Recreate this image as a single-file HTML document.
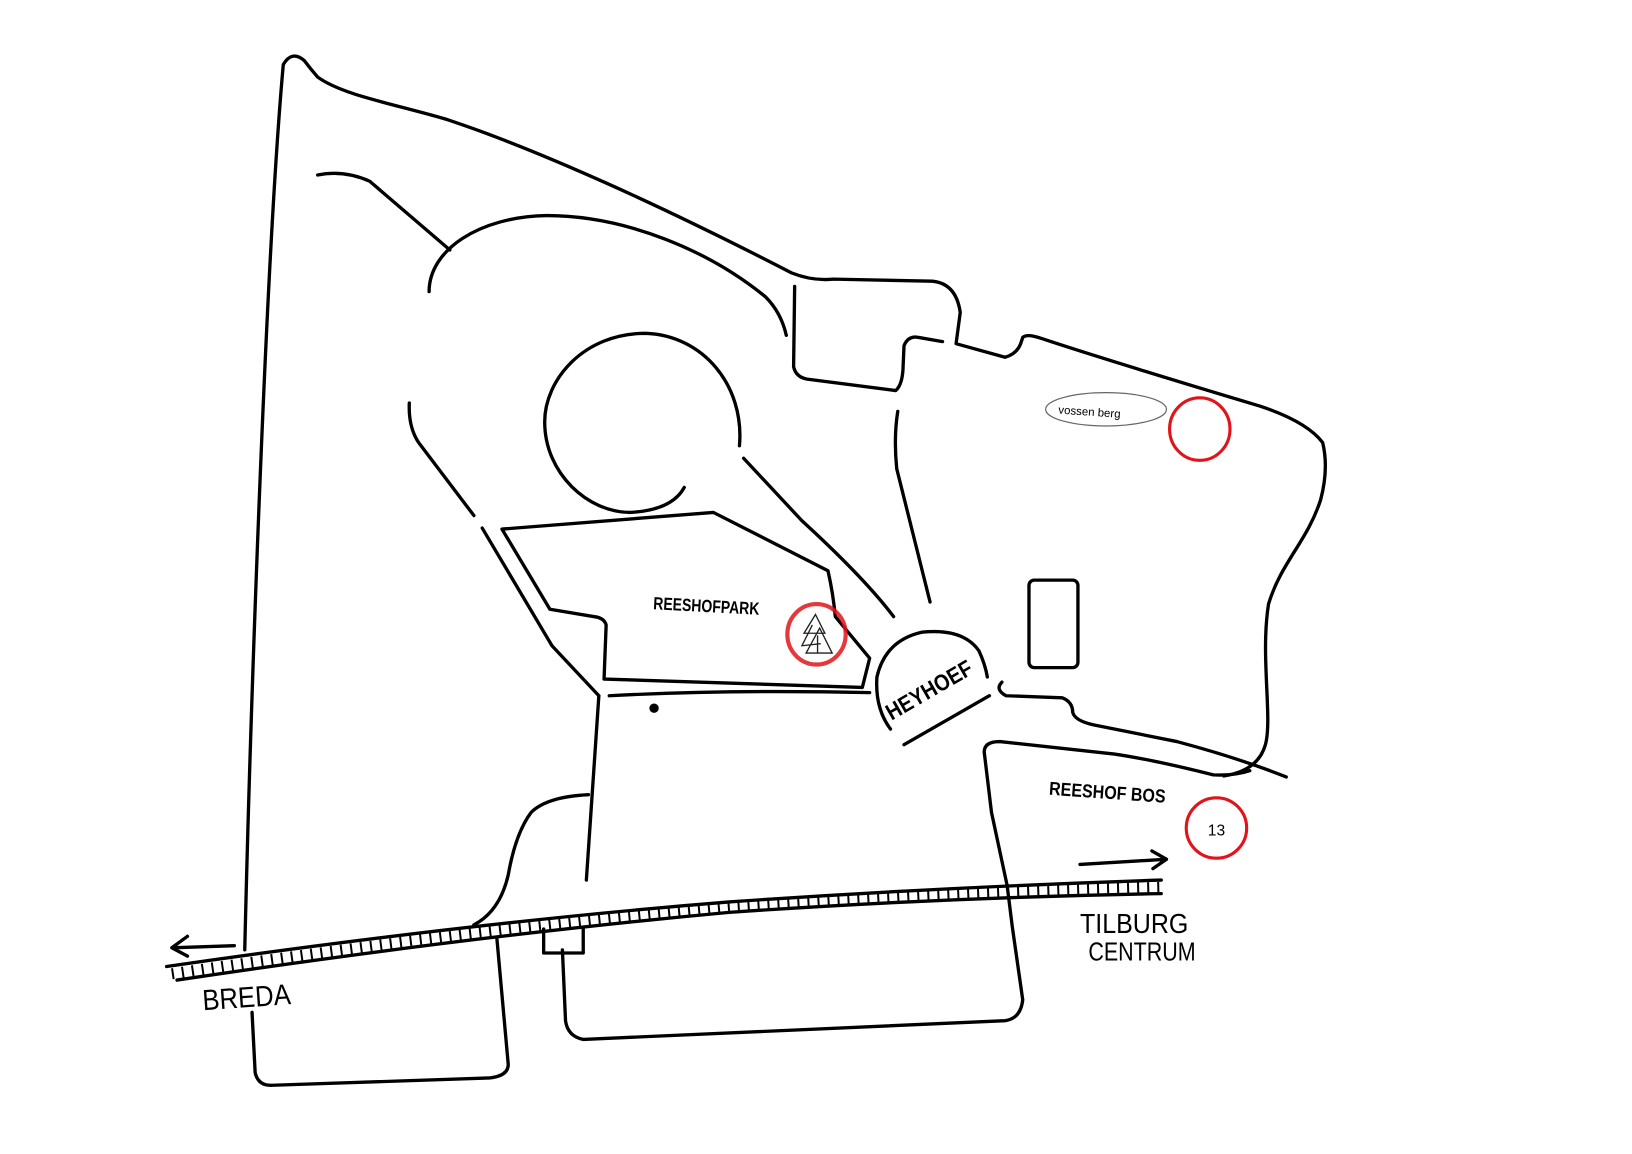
<!DOCTYPE html>
<html><head><meta charset="utf-8"><style>
html,body{margin:0;padding:0;background:#fff;}
svg{display:block;}
.s{fill:none;stroke:#000;stroke-width:3.2;stroke-linecap:round;stroke-linejoin:round;vector-effect:non-scaling-stroke;}
text{font-family:"Liberation Sans Narrow","Liberation Sans",sans-serif;font-weight:bold;fill:#000;}
</style></head><body>
<svg width="1632" height="1154" viewBox="0 0 1567 1108" preserveAspectRatio="none" xmlns="http://www.w3.org/2000/svg">
<g class="s">
<path d="M235,912 C240,700 255,250 272,62 Q280,48 292,58 Q298,66 305,74 C330,92 380,100 430,115 C520,145 640,200 760,262 Q780,270 800,268 L895,270 Q918,272 922,300 L918,330 L965,343 Q976,340 980,330 L982,324 Q986,320 1000,325 C1060,345 1150,372 1210,390 Q1255,405 1270,425 Q1276,450 1268,480 C1255,520 1230,540 1218,580 C1210,630 1222,690 1215,715 Q1208,740 1175,745"/>
<path d="M305,168 Q330,163 355,174 L432,240"/>
<path d="M412,280 C412,240 460,208 525,207 C600,207 680,240 735,285 Q750,300 755,322"/>
<path d="M763,275 L762,352 Q764,362 775,364 L860,375 Q866,370 867,355 L868,332 Q872,322 882,324 L905,328"/>
<path d="M710,428 C715,370 675,322 620,320 C560,320 523,365 523,405 C523,455 565,492 605,492 Q645,490 657,468"/>
<path d="M393,387 Q392,410 402,425 L455,495"/>
<path d="M463,507 L530,620 L575,668"/>
<path d="M482,508 L685,492 L795,548 Q800,570 802,592 L835,632 L828,660 L580,652 L582,600 Q580,593 570,592 L528,585 Z"/>
<path d="M714,440 L770,500 Q830,555 858,592"/>
<path d="M862,395 Q858,420 861,450 L893,578"/>
<path d="M585,668 Q700,662 835,665"/>
<path d="M855,700 Q840,680 842,650 Q850,615 885,607 Q925,603 940,625 Q946,638 948,650"/>
<path d="M868,715 L950,668"/>
<path d="M962,655 Q955,662 966,668 L1020,670 Q1030,674 1030,684 Q1032,692 1050,696 L1130,712 Q1190,728 1235,746"/>
<path d="M1200,740 Q1185,745 1165,744 Q1110,730 1070,724 L960,712 Q945,712 945,722 L952,780 L967,850 L972,890 L982,960 Q980,978 965,980 L560,998 Q545,995 543,980 L540,912"/>
<rect x="988" y="557" width="47" height="84" rx="5"/>
<path d="M575,668 L563,845"/>
<path d="M565,763 Q525,765 510,780 Q495,800 488,840 Q480,875 455,888"/>
<path d="M242,972 L245,1030 Q248,1043 262,1042 L470,1035 Q488,1033 488,1022 L477,900"/>
<path d="M522,892 L522,915 L560,915 L560,892"/>
<path d="M160,928 Q450,886 700,866 Q900,852 1115,845"/>
<path d="M170,941 Q450,899 700,876 Q900,862 1115,858"/>
<path d="M225,908 L165,910 M180,899 L165,910 L180,918"/>
<path d="M1037,830 L1120,825 M1106,817 L1120,825 L1107,834"/>
</g>
<path d="M165,935 Q450,893 700,871 Q900,857 1115,852" fill="none" stroke="#000" stroke-width="11" stroke-dasharray="2 8" vector-effect="non-scaling-stroke"/>
<g fill="none" stroke="#e0141a" stroke-width="3" vector-effect="non-scaling-stroke">
<ellipse cx="1152" cy="412" rx="29" ry="30"/>
<ellipse cx="1168" cy="795" rx="29" ry="29"/>
<ellipse cx="784" cy="609" rx="28" ry="29" stroke-width="4" opacity="0.85"/>
</g>
<g fill="none" stroke="#222" stroke-width="1.3" vector-effect="non-scaling-stroke">
<path d="M783,590 L772,608 L792,608 Z M780,600 L770,620 L788,618 M787,603 L799,627 L774,627 Z M785,610 L785,627"/>
</g>
<ellipse cx="1062" cy="393" rx="58" ry="16" fill="none" stroke="#666" stroke-width="1.2" vector-effect="non-scaling-stroke"/>
<text x="1016" y="397" font-size="11" fill="#333" style="font-family:'Liberation Sans',sans-serif;font-weight:normal" transform="rotate(4 1016 397)">vossen berg</text>
<text x="627" y="585" font-size="17" transform="rotate(3 627 585)" textLength="102" lengthAdjust="spacingAndGlyphs">REESHOFPARK</text>
<text x="1007" y="763" font-size="18" transform="rotate(4 1007 763)" textLength="112" lengthAdjust="spacingAndGlyphs">REESHOF BOS</text>
<text x="1168" y="802" font-size="15" text-anchor="middle" style="font-weight:normal">13</text>
<text x="856" y="692" font-size="22" transform="rotate(-30 856 692)" textLength="92" lengthAdjust="spacingAndGlyphs">HEYHOEF</text>
<text x="195" y="970" font-size="28" style="font-weight:normal" transform="rotate(-4 195 970)" textLength="85" lengthAdjust="spacingAndGlyphs">BREDA</text>
<text x="1037" y="896" font-size="27" style="font-weight:normal" textLength="104" lengthAdjust="spacingAndGlyphs">TILBURG</text>
<text x="1045" y="922" font-size="25" style="font-weight:normal" textLength="103" lengthAdjust="spacingAndGlyphs">CENTRUM</text>
<circle cx="628" cy="680" r="4.5" fill="#000"/>
</svg>
</body></html>
